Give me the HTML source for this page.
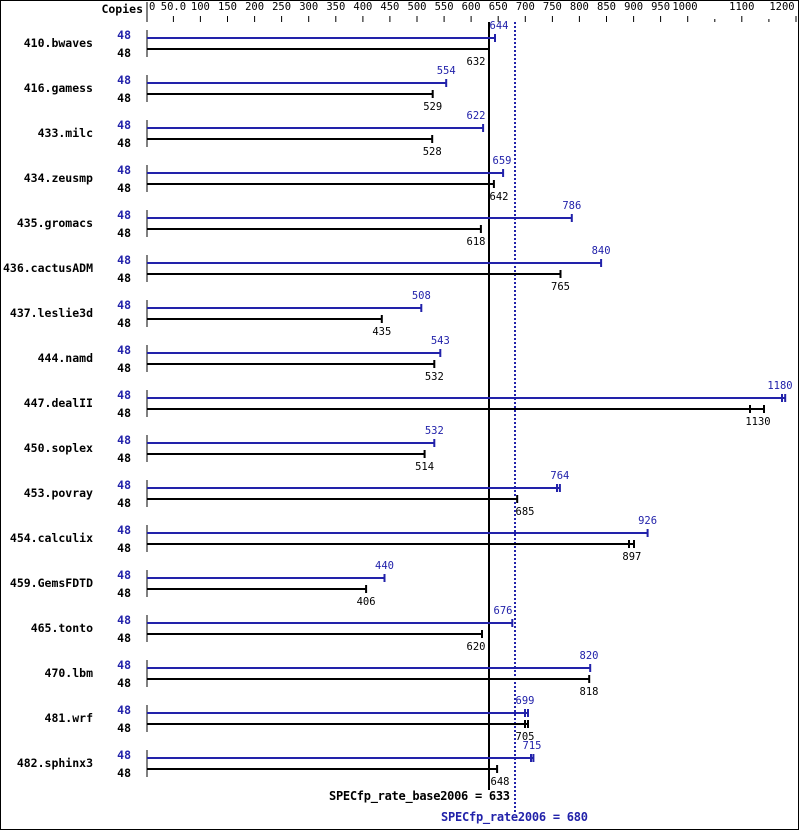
<!DOCTYPE html>
<html><head><meta charset="utf-8"><style>
html,body{margin:0;padding:0;background:#fff}
svg{display:block}
text{font-family:"DejaVu Sans Mono","Liberation Mono",monospace}
.t{font-size:10.5px;fill:#000;text-anchor:middle}
.n{font-size:11.5px;font-weight:bold;fill:#000;text-anchor:end}
.c{font-size:11.5px;font-weight:bold;text-anchor:end}
.b{font-size:12px;font-weight:bold;text-anchor:end}
.v{font-size:10.5px;text-anchor:middle}
</style></head><body>
<svg width="799" height="831" viewBox="0 0 799 831" xmlns="http://www.w3.org/2000/svg">
<rect x="0.5" y="0.5" width="798" height="829" fill="#fff" stroke="#000"/>
<text x="143" y="13" class="n">Copies</text>
<line x1="147" y1="2" x2="147" y2="22" stroke="#000"/>
<g class="t">
<text x="149" y="10" text-anchor="start">0</text>
<text x="173.4" y="10">50.0</text><text x="200.4" y="10">100</text><text x="227.5" y="10">150</text><text x="254.6" y="10">200</text><text x="281.6" y="10">250</text><text x="308.7" y="10">300</text><text x="335.8" y="10">350</text><text x="362.9" y="10">400</text><text x="389.9" y="10">450</text><text x="417" y="10">500</text><text x="444.1" y="10">550</text><text x="471.1" y="10">600</text><text x="498.2" y="10">650</text><text x="525.3" y="10">700</text><text x="552.4" y="10">750</text><text x="579.4" y="10">800</text><text x="606.5" y="10">850</text><text x="633.6" y="10">900</text><text x="660.6" y="10">950</text><text x="685" y="10">1000</text><text x="741.8" y="10">1100</text><text x="782" y="10">1200</text>
</g>
<g stroke="#000">
<path d="M173.4 16v6M200.4 16v6M227.5 16v6M254.6 16v6M281.6 16v6M308.7 16v6M335.8 16v6M362.9 16v6M389.9 16v6M417 16v6M444.1 16v6M471.1 16v6M498.2 16v6M525.3 16v6M552.4 16v6M579.4 16v6M606.5 16v6M633.6 16v6M660.6 16v6M687.7 16v6M741.8 16v6M796 16v6M714.8 19v3M768.9 19v3"/>
</g>
<line x1="489" y1="22" x2="489" y2="790" stroke="#000" stroke-width="2"/>
<line x1="515" y1="22" x2="515" y2="812" stroke="#2222aa" stroke-width="2" stroke-dasharray="2,2"/>

<defs>
<g id="r"><line x1="147" y1="30" x2="147" y2="57" stroke="#000"/>
<text x="131" y="39" class="c" fill="#2222aa">48</text><text x="131" y="57" class="c" fill="#000">48</text></g>
</defs>

<g transform="translate(0,0)"><use href="#r"/><text x="93" y="47" class="n">410.bwaves</text>
<path d="M147 38H495M495 34v8" stroke="#2222aa" stroke-width="2" fill="none"/><path d="M147 49H488.5" stroke="#000" stroke-width="2"/>
<text x="499" y="29" class="v" fill="#2222aa">644</text><text x="476" y="65" class="v" fill="#000">632</text></g>

<g transform="translate(0,45)"><use href="#r"/><text x="93" y="47" class="n">416.gamess</text>
<path d="M147 38H446.2M446.2 34v8" stroke="#2222aa" stroke-width="2" fill="none"/><path d="M147 49H432.7M432.7 45v8" stroke="#000" stroke-width="2"/>
<text x="446.2" y="29" class="v" fill="#2222aa">554</text><text x="432.7" y="65" class="v" fill="#000">529</text></g>

<g transform="translate(0,90)"><use href="#r"/><text x="93" y="47" class="n">433.milc</text>
<path d="M147 38H483.1M483.1 34v8" stroke="#2222aa" stroke-width="2" fill="none"/><path d="M147 49H432.2M432.2 45v8" stroke="#000" stroke-width="2"/>
<text x="476" y="29" class="v" fill="#2222aa">622</text><text x="432.2" y="65" class="v" fill="#000">528</text></g>

<g transform="translate(0,135)"><use href="#r"/><text x="93" y="47" class="n">434.zeusmp</text>
<path d="M147 38H503.1M503.1 34v8" stroke="#2222aa" stroke-width="2" fill="none"/><path d="M147 49H493.9M493.9 45v8" stroke="#000" stroke-width="2"/>
<text x="502" y="29" class="v" fill="#2222aa">659</text><text x="499" y="65" class="v" fill="#000">642</text></g>

<g transform="translate(0,180)"><use href="#r"/><text x="93" y="47" class="n">435.gromacs</text>
<path d="M147 38H571.8M571.8 34v8" stroke="#2222aa" stroke-width="2" fill="none"/><path d="M147 49H480.9M480.9 45v8" stroke="#000" stroke-width="2"/>
<text x="571.8" y="29" class="v" fill="#2222aa">786</text><text x="476" y="65" class="v" fill="#000">618</text></g>

<g transform="translate(0,225)"><use href="#r"/><text x="93" y="47" class="n">436.cactusADM</text>
<path d="M147 38H601.1M601.1 34v8" stroke="#2222aa" stroke-width="2" fill="none"/><path d="M147 49H560.5M560.5 45v8" stroke="#000" stroke-width="2"/>
<text x="601.1" y="29" class="v" fill="#2222aa">840</text><text x="560.5" y="65" class="v" fill="#000">765</text></g>

<g transform="translate(0,270)"><use href="#r"/><text x="93" y="47" class="n">437.leslie3d</text>
<path d="M147 38H421.3M421.3 34v8" stroke="#2222aa" stroke-width="2" fill="none"/><path d="M147 49H381.8M381.8 45v8" stroke="#000" stroke-width="2"/>
<text x="421.3" y="29" class="v" fill="#2222aa">508</text><text x="381.8" y="65" class="v" fill="#000">435</text></g>

<g transform="translate(0,315)"><use href="#r"/><text x="93" y="47" class="n">444.namd</text>
<path d="M147 38H440.3M440.3 34v8" stroke="#2222aa" stroke-width="2" fill="none"/><path d="M147 49H434.3M434.3 45v8" stroke="#000" stroke-width="2"/>
<text x="440.3" y="29" class="v" fill="#2222aa">543</text><text x="434.3" y="65" class="v" fill="#000">532</text></g>

<g transform="translate(0,360)"><use href="#r"/><text x="93" y="47" class="n">447.dealII</text>
<path d="M147 38H785.2M785.2 34v8M782 34v8" stroke="#2222aa" stroke-width="2" fill="none"/><path d="M147 49H764M764 45v8M750 45v8" stroke="#000" stroke-width="2"/>
<text x="780" y="29" class="v" fill="#2222aa">1180</text><text x="758" y="65" class="v" fill="#000">1130</text></g>

<g transform="translate(0,405)"><use href="#r"/><text x="93" y="47" class="n">450.soplex</text>
<path d="M147 38H434.3M434.3 34v8" stroke="#2222aa" stroke-width="2" fill="none"/><path d="M147 49H424.6M424.6 45v8" stroke="#000" stroke-width="2"/>
<text x="434.3" y="29" class="v" fill="#2222aa">532</text><text x="424.6" y="65" class="v" fill="#000">514</text></g>

<g transform="translate(0,450)"><use href="#r"/><text x="93" y="47" class="n">453.povray</text>
<path d="M147 38H559.9M559.9 34v8M557 34v8" stroke="#2222aa" stroke-width="2" fill="none"/><path d="M147 49H517.2M517.2 45v8" stroke="#000" stroke-width="2"/>
<text x="559.9" y="29" class="v" fill="#2222aa">764</text><text x="525" y="65" class="v" fill="#000">685</text></g>

<g transform="translate(0,495)"><use href="#r"/><text x="93" y="47" class="n">454.calculix</text>
<path d="M147 38H647.6M647.6 34v8" stroke="#2222aa" stroke-width="2" fill="none"/><path d="M147 49H634M634 45v8M629 45v8" stroke="#000" stroke-width="2"/>
<text x="647.6" y="29" class="v" fill="#2222aa">926</text><text x="631.9" y="65" class="v" fill="#000">897</text></g>

<g transform="translate(0,540)"><use href="#r"/><text x="93" y="47" class="n">459.GemsFDTD</text>
<path d="M147 38H384.5M384.5 34v8" stroke="#2222aa" stroke-width="2" fill="none"/><path d="M147 49H366.1M366.1 45v8" stroke="#000" stroke-width="2"/>
<text x="384.5" y="29" class="v" fill="#2222aa">440</text><text x="366.1" y="65" class="v" fill="#000">406</text></g>

<g transform="translate(0,585)"><use href="#r"/><text x="93" y="47" class="n">465.tonto</text>
<path d="M147 38H512.3M512.3 34v8" stroke="#2222aa" stroke-width="2" fill="none"/><path d="M147 49H482M482 45v8" stroke="#000" stroke-width="2"/>
<text x="503" y="29" class="v" fill="#2222aa">676</text><text x="476" y="65" class="v" fill="#000">620</text></g>

<g transform="translate(0,630)"><use href="#r"/><text x="93" y="47" class="n">470.lbm</text>
<path d="M147 38H590.2M590.2 34v8" stroke="#2222aa" stroke-width="2" fill="none"/><path d="M147 49H589.2M589.2 45v8" stroke="#000" stroke-width="2"/>
<text x="589" y="29" class="v" fill="#2222aa">820</text><text x="589" y="65" class="v" fill="#000">818</text></g>

<g transform="translate(0,675)"><use href="#r"/><text x="93" y="47" class="n">481.wrf</text>
<path d="M147 38H528M528 34v8M525 34v8" stroke="#2222aa" stroke-width="2" fill="none"/><path d="M147 49H528M528 45v8M525 45v8" stroke="#000" stroke-width="2"/>
<text x="525" y="29" class="v" fill="#2222aa">699</text><text x="525" y="65" class="v" fill="#000">705</text></g>

<g transform="translate(0,720)"><use href="#r"/><text x="93" y="47" class="n">482.sphinx3</text>
<path d="M147 38H533.4M533.4 34v8M531 34v8" stroke="#2222aa" stroke-width="2" fill="none"/><path d="M147 49H497.1M497.1 45v8" stroke="#000" stroke-width="2"/>
<text x="532" y="29" class="v" fill="#2222aa">715</text><text x="500" y="65" class="v" fill="#000">648</text></g>

<text x="510" y="800" class="b" fill="#000" textLength="181">SPECfp_rate_base2006 = 633</text>
<text x="588" y="821" class="b" fill="#2222aa" textLength="147">SPECfp_rate2006 = 680</text>
</svg>
</body></html>
